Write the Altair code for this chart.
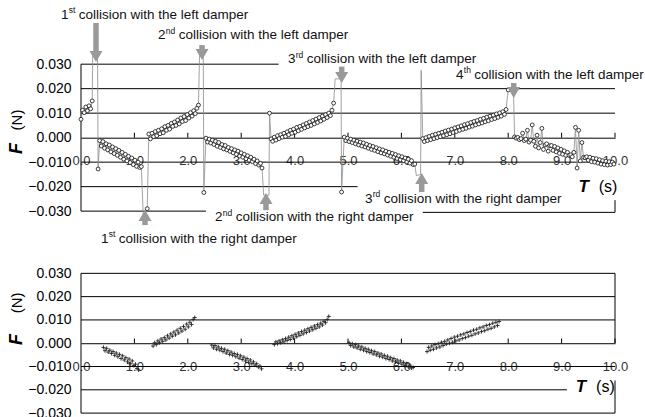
import altair as alt
import pandas as pd

# ---------------- data ----------------
T_STEP = 0.03  # sampling interval of the force record (s)

# Upper record (with dampers): force segments F (N) and their start times (s)
top_seg_start = [0.00, 0.35, 1.27, 2.34, 3.56, 4.93, 6.40, 8.12]
top_seg_F = [
    [0.0075, 0.0112, 0.0102, 0.0125, 0.0110, 0.0130, 0.0118, 0.0150],
    [-0.0012, -0.0034, -0.0016, -0.0043, -0.0025, -0.0050, -0.0030, -0.0058, -0.0038, -0.0065,
     -0.0045, -0.0072, -0.0052, -0.0080, -0.0060, -0.0088, -0.0068, -0.0095, -0.0076, -0.0102,
     -0.0083, -0.0110, -0.0092, -0.0117, -0.0100, -0.0122, -0.0118],
    [0.0015, -0.0005, 0.0018, 0.0004, 0.0025, 0.0008, 0.0030, 0.0016, 0.0036, 0.0020,
     0.0045, 0.0030, 0.0050, 0.0035, 0.0058, 0.0046, 0.0064, 0.0050, 0.0072, 0.0056,
     0.0080, 0.0066, 0.0086, 0.0070, 0.0094, 0.0080, 0.0102, 0.0088, 0.0110, 0.0098,
     0.0120, 0.0133],
    [-0.0002, -0.0018, -0.0006, -0.0022, -0.0010, -0.0028, -0.0015, -0.0035, -0.0020, -0.0040,
     -0.0028, -0.0046, -0.0032, -0.0050, -0.0040, -0.0056, -0.0045, -0.0062, -0.0050, -0.0068,
     -0.0055, -0.0075, -0.0062, -0.0080, -0.0068, -0.0086, -0.0074, -0.0092, -0.0080, -0.0098,
     -0.0088, -0.0106, -0.0095, -0.0112, -0.0105, -0.0124],
    [-0.0005, -0.0015, 0.0002, -0.0010, 0.0008, -0.0004, 0.0012, 0.0002, 0.0018, 0.0005,
     0.0024, 0.0012, 0.0030, 0.0018, 0.0035, 0.0022, 0.0042, 0.0028, 0.0046, 0.0034,
     0.0052, 0.0040, 0.0058, 0.0045, 0.0064, 0.0050, 0.0070, 0.0056, 0.0076, 0.0062,
     0.0082, 0.0068, 0.0088, 0.0075, 0.0094, 0.0082, 0.0100, 0.0090, 0.0112, 0.0141],
    [0.0002, -0.0012, -0.0002, -0.0016, -0.0006, -0.0020, -0.0010, -0.0025, -0.0014, -0.0030,
     -0.0018, -0.0034, -0.0022, -0.0038, -0.0027, -0.0043, -0.0032, -0.0048, -0.0036, -0.0052,
     -0.0041, -0.0057, -0.0046, -0.0062, -0.0050, -0.0066, -0.0055, -0.0071, -0.0060, -0.0076,
     -0.0064, -0.0080, -0.0069, -0.0085, -0.0074, -0.0090, -0.0078, -0.0094, -0.0083, -0.0099,
     -0.0088, -0.0104, -0.0094, -0.0110, -0.0108],
    [-0.0004, -0.0016, 0.0000, -0.0012, 0.0005, -0.0008, 0.0010, -0.0004, 0.0014, 0.0000,
     0.0018, 0.0004, 0.0022, 0.0008, 0.0027, 0.0012, 0.0031, 0.0016, 0.0035, 0.0021,
     0.0040, 0.0025, 0.0044, 0.0030, 0.0048, 0.0034, 0.0053, 0.0038, 0.0057, 0.0043,
     0.0062, 0.0047, 0.0066, 0.0052, 0.0070, 0.0056, 0.0075, 0.0060, 0.0079, 0.0065,
     0.0084, 0.0069, 0.0088, 0.0074, 0.0092, 0.0078, 0.0097, 0.0083, 0.0101, 0.0088,
     0.0106, 0.0095, 0.0115],
    [0.0003, -0.0002, 0.0001, -0.0008, -0.0004, 0.0018, -0.0012, -0.0006, 0.0030, -0.0018,
     -0.0010, 0.0052, -0.0015, -0.0035, 0.0010, -0.0042, -0.0020, 0.0038, -0.0048, -0.0030,
     -0.0025, -0.0055, -0.0033, -0.0032, -0.0052, -0.0036, -0.0058, -0.0042, -0.0064, -0.0048,
     -0.0068, -0.0054, -0.0072, -0.0060, -0.0072, -0.0070, -0.0078, -0.0060, 0.0042, -0.0124,
     0.0030, -0.0095, -0.0020, -0.0080, -0.0082, -0.0078, -0.0092, -0.0080, -0.0098, -0.0084,
     -0.0100, -0.0086, -0.0104, -0.0090, -0.0108, -0.0094, -0.0110, -0.0096, -0.0112, -0.0098,
     -0.0110, -0.0100, -0.0108],
]
# collision spikes between the segments (t, F); show = 1 where a marker is visible
top_spike_t = [[0.22, 0.31, 0.32], [1.17, 1.24], [2.22, 2.29, 2.30], [3.42, 3.52, 3.53],
               [4.76, 4.87, 4.88], [6.28, 6.36, 6.37], [8.00, 8.10]]
top_spike_F = [[0.034, 0.034, -0.0128], [-0.034, -0.029], [0.034, 0.034, -0.0224],
               [-0.0235, -0.0235, 0.0100], [0.024, 0.024, -0.0222], [-0.0155, -0.0150, 0.0275],
               [0.0195, 0.0180]]
top_spike_show = [[0, 0, 1], [0, 1], [0, 0, 1], [0, 0, 1], [0, 0, 1], [0, 0, 0], [1, 0]]

# Lower record (without dampers)
bot_seg_start = [0.42, 1.35, 2.45, 3.62, 5.02, 6.48]
bot_seg_F = [
    [-0.0018, -0.0032, -0.0022, -0.0038, -0.0030, -0.0044, -0.0036, -0.0052, -0.0042, -0.0058,
     -0.0048, -0.0066, -0.0054, -0.0072, -0.0062, -0.0080, -0.0068, -0.0088, -0.0076, -0.0096,
     -0.0090, -0.0108, -0.0115],
    [-0.0012, 0.0002, -0.0006, 0.0010, 0.0002, 0.0018, 0.0008, 0.0024, 0.0014, 0.0032,
     0.0022, 0.0040, 0.0030, 0.0048, 0.0036, 0.0056, 0.0044, 0.0064, 0.0052, 0.0072,
     0.0060, 0.0082, 0.0070, 0.0090, 0.0080, 0.0102, 0.0110],
    [-0.0008, -0.0020, -0.0010, -0.0026, -0.0016, -0.0030, -0.0022, -0.0036, -0.0026, -0.0042,
     -0.0032, -0.0048, -0.0038, -0.0052, -0.0044, -0.0058, -0.0048, -0.0064, -0.0054, -0.0070,
     -0.0060, -0.0076, -0.0066, -0.0082, -0.0072, -0.0088, -0.0080, -0.0094, -0.0088, -0.0102,
     -0.0098, -0.0110],
    [-0.0006, 0.0006, -0.0002, 0.0010, 0.0002, 0.0015, 0.0006, 0.0020, 0.0012, 0.0026,
     0.0016, 0.0032, 0.0022, 0.0038, 0.0028, 0.0044, 0.0034, 0.0050, 0.0040, 0.0056,
     0.0046, 0.0062, 0.0052, 0.0068, 0.0058, 0.0074, 0.0064, 0.0080, 0.0070, 0.0086,
     0.0078, 0.0094, 0.0088, 0.0102, 0.0115],
    [0.0002, -0.0010, -0.0002, -0.0016, -0.0006, -0.0020, -0.0012, -0.0026, -0.0016, -0.0030,
     -0.0022, -0.0036, -0.0026, -0.0040, -0.0032, -0.0046, -0.0036, -0.0050, -0.0042, -0.0056,
     -0.0046, -0.0060, -0.0052, -0.0066, -0.0056, -0.0070, -0.0062, -0.0076, -0.0066, -0.0080,
     -0.0072, -0.0086, -0.0076, -0.0090, -0.0082, -0.0096, -0.0088, -0.0102, -0.0094, -0.0106,
     -0.0104],
    [-0.0036, -0.0018, -0.0030, -0.0012, -0.0026, -0.0006, -0.0020, -0.0002, -0.0016, 0.0004,
     -0.0010, 0.0008, -0.0004, 0.0014, 0.0000, 0.0020, 0.0004, 0.0026, 0.0010, 0.0030,
     0.0014, 0.0036, 0.0020, 0.0040, 0.0024, 0.0046, 0.0030, 0.0050, 0.0034, 0.0056,
     0.0040, 0.0060, 0.0044, 0.0066, 0.0050, 0.0070, 0.0054, 0.0076, 0.0060, 0.0080,
     0.0064, 0.0086, 0.0070, 0.0090, 0.0076, 0.0093],
]

x_tick_values = [0.0, 1.0, 2.0, 3.0, 4.0, 5.0, 6.0, 7.0, 8.0, 9.0, 10.0]
x_minor_ticks = [1.0, 2.0, 3.0, 4.0, 5.0, 6.0, 7.0, 8.0, 9.0, 10.0]
y_tick_values = [-0.03, -0.02, -0.01, 0.0, 0.01, 0.02, 0.03]

# visible pieces of the gridlines / frame
top_grid_F = [0.03, 0.02, 0.01, -0.01, -0.02, -0.03, -0.0305]
top_grid_t0 = [0, 0, 0, 0, 0, 0, 6.4]
top_grid_t1 = [3.7, 10, 10, 10, 5.18, 2.34, 10]
top_frame_t = [0, 10]
top_frame_F0 = [-0.03, -0.0255]
top_frame_F1 = [0.03, -0.0305]

bot_grid_F = [0.03, 0.02, 0.01, -0.01, -0.02, -0.03]
bot_grid_t0 = [0, 0, 0, 0, 0, 0]
bot_grid_t1 = [10, 10, 10, 10, 9.1, 10]
bot_frame_t = [0, 10, 10]
bot_frame_F0 = [-0.03, 0.0, -0.016]
bot_frame_F1 = [0.03, 0.03, -0.03]

# arrows: time, tail and tip force
arrow_t = [0.281, 2.266, 4.882, 8.103, 1.199, 3.464, 6.38]
arrow_tail = [0.0468, 0.0378, 0.029, 0.0223, -0.0357, -0.0296, -0.0222]
arrow_tip = [0.0309, 0.0317, 0.0223, 0.0162, -0.0295, -0.0226, -0.0144]

# annotations
label_num = ["1", "2", "3", "4", "3", "2", "1"]
label_suffix = ["st", "nd", "rd", "th", "rd", "nd", "st"]
label_rest = ["collision with the left damper"] * 4 + ["collision with the right damper"] * 3
label_t = [-0.375, 1.442, 3.876, 7.022, 5.318, 2.509, 0.375]
label_F = [0.0501, 0.0419, 0.0321, 0.0256, -0.0250, -0.0324, -0.0413]

# axis titles (t, F)
top_Ftitle = [(-1.2, -0.0044, "F"), (-1.2, 0.0072, "(N)")]
top_Ttitle = [(9.415, -0.0200, "T"), (9.87, -0.0200, "(s)")]
bot_Ftitle = [(-1.2, 0.0016, "F"), (-1.2, 0.0173, "(N)")]
bot_Ttitle = [(9.36, -0.0186, "T"), (9.82, -0.0186, "(s)")]

# ---------------- build tables ----------------
rows = []
for k, (start, vals) in enumerate(zip(top_seg_start, top_seg_F)):
    for i, v in enumerate(vals):
        rows.append(dict(t=round(start + i * T_STEP, 3), F=v, show=1, o=len(rows)))
    if k < len(top_spike_t):
        for t, f, s in zip(top_spike_t[k], top_spike_F[k], top_spike_show[k]):
            rows.append(dict(t=t, F=f, show=s, o=len(rows)))
top_df = pd.DataFrame(rows)

brows = []
for start, vals in zip(bot_seg_start, bot_seg_F):
    for i, v in enumerate(vals):
        brows.append(dict(t=round(start + i * T_STEP, 3), F=v))
bot_df = pd.DataFrame(brows)

FONT = "Liberation Sans"
W = 534


def panel(height, ydom, zero_px, grid, frame, series_layers, extra_layers, ftitle, ttitle):
    xs = alt.Scale(domain=[0, 10], nice=False, zero=False)
    ys = alt.Scale(domain=ydom, nice=False, zero=False)
    xaxis = alt.Axis(orient="bottom", offset=-(height - zero_px), values=x_tick_values,
                     format=".1f", labelFontSize=13, labelColor="#333", labelFont=FONT,
                     labelPadding=17, ticks=False, tickSize=0, domain=True,
                     domainColor="black", domainWidth=1, grid=False, title=None,
                     labelFlush=False, labelOverlap=False)
    yaxis = alt.Axis(values=y_tick_values, format=".3f", labelFontSize=14, labelColor="black",
                     labelFont=FONT, labelPadding=10, ticks=False, tickSize=0, domain=False,
                     grid=False, title=None)

    def X(f):
        return alt.X(f, type="quantitative", scale=xs, axis=xaxis)

    def Y(f):
        return alt.Y(f, type="quantitative", scale=ys, axis=yaxis)

    gdf = pd.DataFrame({"F": grid[0], "t0": grid[1], "t1": grid[2]})
    fdf = pd.DataFrame({"t": frame[0], "F0": frame[1], "F1": frame[2]})
    tdf = pd.DataFrame({"t": x_minor_ticks, "F0": [0.0] * len(x_minor_ticks),
                        "F1": [0.002] * len(x_minor_ticks)})

    layers = [
        alt.Chart(gdf).mark_rule(color="black", strokeWidth=1).encode(
            x=X("t0"), x2="t1", y=Y("F")),
        alt.Chart(fdf).mark_rule(color="black", strokeWidth=1).encode(
            x=X("t"), y=Y("F0"), y2="F1"),
        alt.Chart(tdf).mark_rule(color="black", strokeWidth=1).encode(
            x=X("t"), y=Y("F0"), y2="F1"),
    ]
    layers += [mk(X, Y) for mk in series_layers]
    layers += [mk(X, Y) for mk in extra_layers]

    ft = pd.DataFrame(ftitle, columns=["t", "F", "txt"])
    layers.append(alt.Chart(ft[ft.txt == "F"]).mark_text(
        font=FONT, fontSize=18, fontWeight="bold", fontStyle="italic", angle=270,
        align="center", baseline="middle", color="black").encode(x=X("t"), y=Y("F"), text="txt"))
    layers.append(alt.Chart(ft[ft.txt != "F"]).mark_text(
        font=FONT, fontSize=15, angle=270, align="center", baseline="middle",
        color="black").encode(x=X("t"), y=Y("F"), text="txt"))
    tt = pd.DataFrame(ttitle, columns=["t", "F", "txt"])
    layers.append(alt.Chart(tt[tt.txt == "T"]).mark_text(
        font=FONT, fontSize=17, fontWeight="bold", fontStyle="italic",
        align="center", baseline="middle", color="black").encode(x=X("t"), y=Y("F"), text="txt"))
    layers.append(alt.Chart(tt[tt.txt != "T"]).mark_text(
        font=FONT, fontSize=16, align="center", baseline="middle",
        color="black").encode(x=X("t"), y=Y("F"), text="txt"))

    return alt.layer(*layers).properties(width=W, height=height)


# --- top panel series layers ---
def top_line(X, Y):
    return alt.Chart(top_df).mark_line(color="#8c8c8c", strokeWidth=0.8).encode(
        x=X("t"), y=Y("F"), order="o:Q")


def top_points(X, Y):
    return alt.Chart(top_df).transform_filter("datum.show == 1").mark_point(
        shape="circle", filled=False, fill="white", fillOpacity=1, stroke="#1a1a1a",
        strokeWidth=0.85, size=15, opacity=1).encode(x=X("t"), y=Y("F"))


arr_df = pd.DataFrame({"t": arrow_t, "tail": arrow_tail, "tip": arrow_tip})
arr_df["down"] = arr_df["tail"] > arr_df["tip"]
arr_df["base"] = arr_df["tip"] + arr_df["down"].map({True: 0.0040, False: -0.0040})


def arrow_shafts(X, Y):
    return alt.Chart(arr_df).mark_rule(color="#999999", strokeWidth=5.5, strokeCap="butt").encode(
        x=X("t"), y=Y("tail"), y2="base")


def arrow_heads_down(X, Y):
    return alt.Chart(arr_df[arr_df.down]).mark_point(
        shape="M-1,-1.7L1,-1.7L0,0Z", filled=True, color="#999999", size=169, opacity=1).encode(
        x=X("t"), y=Y("tip"))


def arrow_heads_up(X, Y):
    return alt.Chart(arr_df[~arr_df.down]).mark_point(
        shape="M-1,1.7L1,1.7L0,0Z", filled=True, color="#999999", size=169, opacity=1).encode(
        x=X("t"), y=Y("tip"))


lab_df = pd.DataFrame({"t": label_t, "F": label_F, "num": label_num,
                       "suf": label_suffix, "rest": label_rest})
NUM_W = 7.5
SUF_W = {"st": 6.6, "nd": 9.45, "rd": 7.6, "th": 7.1}


def label_nums(X, Y):
    return alt.Chart(lab_df).mark_text(font=FONT, fontSize=13.5, align="left",
                                       baseline="middle", color="#111").encode(
        x=X("t"), y=Y("F"), text="num")


def label_sufs(X, Y):
    return alt.Chart(lab_df).mark_text(font=FONT, fontSize=8.5, align="left",
                                       baseline="middle", dx=NUM_W + 0.3, dy=-4.5,
                                       color="#111").encode(
        x=X("t"), y=Y("F"), text="suf")


def make_rest(suf):
    def f(X, Y):
        return alt.Chart(lab_df[lab_df.suf == suf]).mark_text(
            font=FONT, fontSize=13.5, align="left", baseline="middle",
            dx=NUM_W + 0.3 + SUF_W[suf] + 3.4, color="#111").encode(
            x=X("t"), y=Y("F"), text="rest")
    return f


top_extra = [arrow_shafts, arrow_heads_down, arrow_heads_up, label_nums, label_sufs] + \
            [make_rest(s) for s in ["st", "nd", "rd", "th"]]


def bot_points(X, Y):
    return alt.Chart(bot_df).mark_point(
        shape="M-1,0H1M0,-1V1", filled=False, stroke="#222", strokeWidth=0.9,
        size=16, opacity=1).encode(x=X("t"), y=Y("F"))


TOP_H = 254
TOP_DOM = [-0.0475, 0.0562]
TOP_ZERO = 0.0562 * 2450
BOT_H = 146.3
BOT_DOM = [-0.0318, 0.031]
BOT_ZERO = 0.031 * 2330

top = panel(TOP_H, TOP_DOM, TOP_ZERO,
            (top_grid_F, top_grid_t0, top_grid_t1),
            (top_frame_t, top_frame_F0, top_frame_F1),
            [top_line, top_points], top_extra, top_Ftitle, top_Ttitle)
bottom = panel(BOT_H, BOT_DOM, BOT_ZERO,
               (bot_grid_F, bot_grid_t0, bot_grid_t1),
               (bot_frame_t, bot_frame_F0, bot_frame_F1),
               [bot_points], [], bot_Ftitle, bot_Ttitle)

chart = alt.vconcat(top, bottom, spacing=17, bounds="flush").properties(
    padding={"left": 7, "top": 0, "right": 0, "bottom": 0},
    background="white",
).configure_view(stroke=None)

chart.save("out.html", embed_options={"renderer": "svg", "actions": False})
